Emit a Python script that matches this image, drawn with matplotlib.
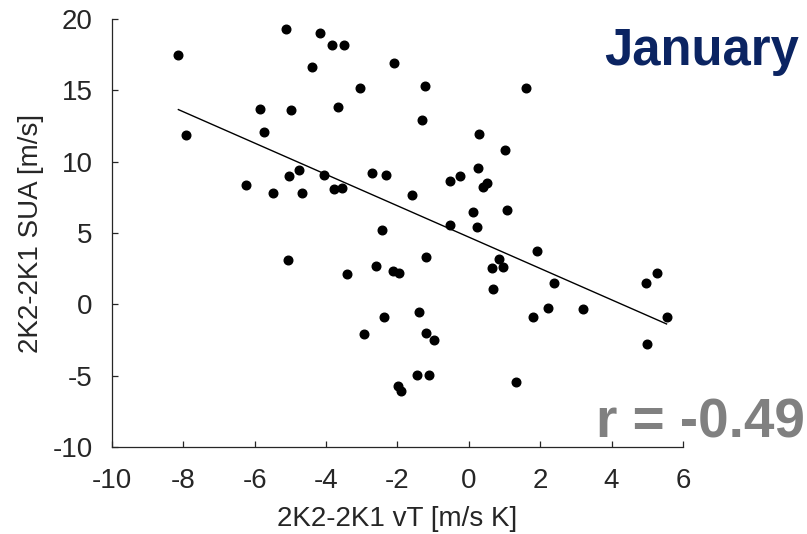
import matplotlib
matplotlib.use("Agg")
import matplotlib.pyplot as plt
import numpy as np

plt.rcParams['font.family'] = ['Liberation Sans', 'DejaVu Sans']
plt.rcParams['axes.unicode_minus'] = False

# January: 2K2-2K1 differences, vT (x) vs SUA (y)
vt = [-8.14, -5.13, -4.18, -3.83, -3.49, -4.39, -2.11, -3.04, -5.86, -4.99,
      -3.68, -7.93, -5.73, -6.25, -5.49, -5.04, -4.75, -4.07, -4.67, -3.79,
      -3.56, -2.71, -2.32, -2.44, -1.23, 1.60, -1.30, 0.29, 1.01, 0.27,
      -0.52, -0.26, 0.39, 0.52, -1.60, 0.11, 1.08, -0.53, 0.22, 1.90,
      -5.06, -3.42, -2.61, -2.13, -1.95, -2.37, -2.95, -1.98, -1.89, -1.20,
      -1.40, -1.20, -0.98, -1.45, -1.12, 0.84, 0.64, 0.95, 0.68, 2.40,
      2.22, 1.80, 3.19, 1.31, 4.97, 5.28, 5.54, 5.00]
sua = [17.48, 19.30, 19.00, 18.20, 18.20, 16.66, 16.94, 15.14, 13.71, 13.62,
       13.85, 11.89, 12.06, 8.37, 7.81, 9.00, 9.40, 9.05, 7.78, 8.06,
       8.16, 9.21, 9.07, 5.19, 15.33, 15.16, 12.92, 11.96, 10.82, 9.58,
       8.67, 9.02, 8.20, 8.50, 7.69, 6.48, 6.62, 5.54, 5.42, 3.72,
       3.13, 2.15, 2.67, 2.34, 2.22, -0.86, -2.05, -5.72, -6.09, 3.32,
       -0.55, -2.03, -2.49, -4.97, -4.93, 3.18, 2.53, 2.62, 1.06, 1.53,
       -0.27, -0.86, -0.34, -5.46, 1.47, 2.20, -0.91, -2.75]
month = "January"
r_value = -0.49

x = np.array(vt)
y = np.array(sua)

fig = plt.figure(figsize=(8.07, 5.34), dpi=100)
ax = fig.add_axes([0.1388, 0.1629, 0.7075, 0.8015])

ax.plot(x, y, 'o', color='black', markersize=6.2, zorder=3)

# least squares fit over the range of the data
p = np.polyfit(x, y, 1)
xf = np.array([x.min(), x.max()])
ax.plot(xf, np.polyval(p, xf), '-', color='black', linewidth=1.0)

ax.set_xlim(-10, 6)
ax.set_ylim(-10, 20)
ax.set_xticks(np.arange(-10, 7, 2))
ax.set_yticks(np.arange(-10, 21, 5))

for s in ['top', 'right']:
    ax.spines[s].set_visible(False)
for s in ['left', 'bottom']:
    ax.spines[s].set_color('#262626')
    ax.spines[s].set_linewidth(0.9)
ax.tick_params(direction='in', length=4.5, width=0.9, color='#262626',
               labelsize=20, labelcolor='#262626')
ax.tick_params(axis='x', pad=15)
ax.tick_params(axis='y', pad=14)

ax.set_xlabel('2K2-2K1 vT [m/s K]', fontsize=20, color='#262626', labelpad=9)
ax.set_ylabel('2K2-2K1 SUA [m/s]', fontsize=20, color='#262626', labelpad=6)

fig.text(0.990, 0.878, month, ha='right', va='baseline', fontsize=36.5,
         fontweight='bold', color='#0b2462')
fig.text(0.9975, 0.1798, 'r = %.2f' % r_value, ha='right', va='baseline',
         fontsize=39.5, fontweight='bold', color='#808080')

fig.savefig('out.png', dpi=100)
